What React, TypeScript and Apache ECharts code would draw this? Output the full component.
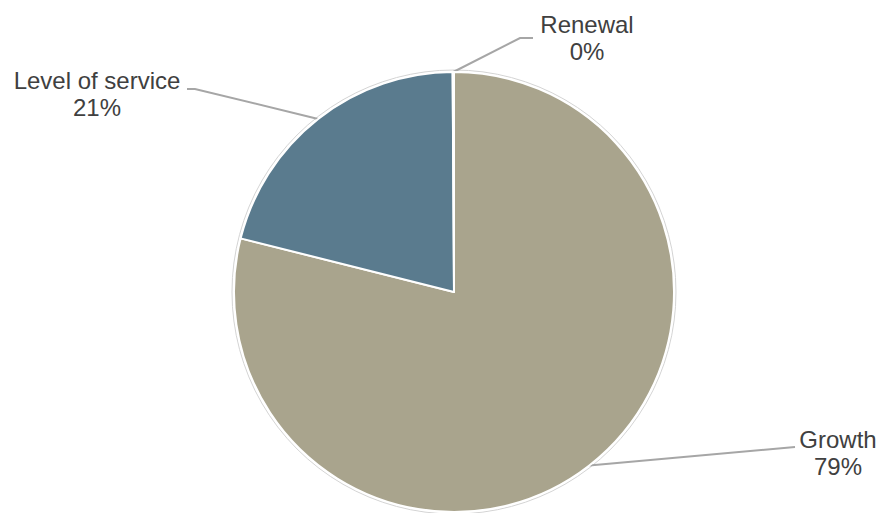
import React, { useEffect, useRef } from "react";
import * as echarts from "echarts";

const categories = ["Growth", "Level of service", "Renewal"];
const values = [79, 21, 0.1];
const colors = ["#A9A48D", "#5A7B8E", "#8C8C8C"];

const labelSpots: Record<string, { x: number; y: number; line: number[][] }> = {
  Growth: { x: 838, y: 453, line: [[795, 447]] },
  "Level of service": { x: 97, y: 94, line: [[195, 89], [187, 89]] },
  Renewal: { x: 587, y: 38, line: [[520, 38], [533, 38]] },
};

export default function App() {
  const ref = useRef<HTMLDivElement>(null);
  useEffect(() => {
    if (!ref.current) return;
    const chart = echarts.init(ref.current, undefined, { renderer: "svg" });
    const total = values.reduce((a, b) => a + b, 0);
    chart.setOption({
      animation: false,
      backgroundColor: "#ffffff",
      series: [
        {
          type: "pie",
          silent: true,
          center: [454, 292],
          radius: [0, 222],
          label: { show: false },
          labelLine: { show: false },
          itemStyle: { color: "#ffffff", borderColor: "#d4d4d4", borderWidth: 1 },
          data: [{ value: 1, name: "" }],
          z: 1,
        },
        {
          type: "pie",
          center: [454, 292],
          radius: [0, 220],
          startAngle: 90,
          clockwise: true,
          z: 2,
          itemStyle: { borderColor: "#ffffff", borderWidth: 2 },
          label: {
            show: true,
            fontFamily: "Liberation Sans, Arial, sans-serif",
            fontSize: 24,
            lineHeight: 27,
            color: "#404040",
            align: "center",
            formatter: (p: any) => `${p.name}\n${Math.round((p.value / total) * 100)}%`,
          },
          labelLine: {
            show: true,
            lineStyle: { color: "#A6A6A6", width: 2 },
          },
          labelLayout: (p: any) => {
            const name = categories[p.dataIndex];
            const s = labelSpots[name];
            const start = p.labelLinePoints ? p.labelLinePoints[0] : [454, 292];
            return {
              x: s.x,
              y: s.y,
              align: "center",
              verticalAlign: "middle",
              labelLinePoints: [start, ...s.line],
            };
          },
          data: categories.map((c, i) => ({
            name: c,
            value: values[i],
            itemStyle: { color: colors[i] },
          })),
        },
      ],
    });
    return () => chart.dispose();
  }, []);
  return (
    <div
      ref={ref}
      style={{ position: "fixed", left: 0, top: 0, width: 880, height: 513 }}
    />
  );
}
